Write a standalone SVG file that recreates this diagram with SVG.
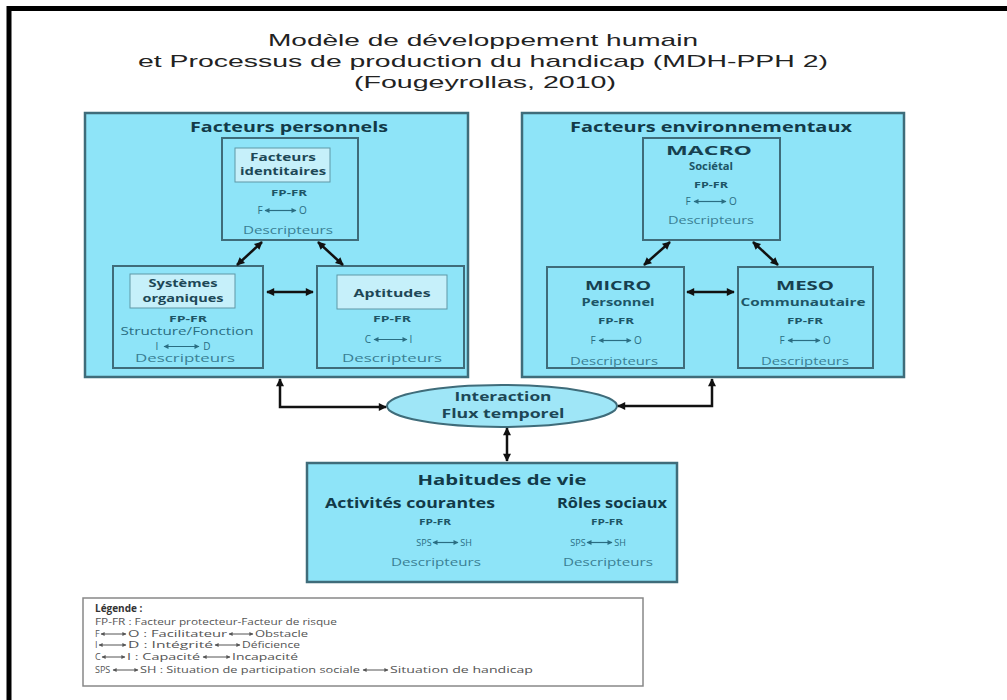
<svg xmlns="http://www.w3.org/2000/svg" width="1007" height="700" viewBox="0 0 1007 700">
<defs>
<style>
.title{font-family:"Liberation Sans",Arial,sans-serif;font-size:17px;fill:#222;text-anchor:middle}
.box{fill:#8ee4f8;stroke:#3f6c7a;stroke-width:2.5}
.ibox{fill:#8ee4f8;stroke:#3f6c7a;stroke-width:2}
.lbl{fill:#c6f0fa;stroke:#5f97a6;stroke-width:1}
.t{font-family:"Open Sans","Noto Sans",sans-serif;text-anchor:middle}
.h1{font-size:15px;font-weight:bold;fill:#123a48}
.h2{font-size:14px;font-weight:bold;fill:#123a48}
.h3{font-size:13px;font-weight:bold;fill:#17404f}
.lb{font-size:11px;font-weight:bold;fill:#1d4756}
.sub{font-size:10.5px;font-weight:bold;fill:#1d5566}
.fp{font-size:9.5px;font-weight:bold;fill:#1d5566}
.sm{font-size:10px;fill:#2a6d82}
.ds{font-size:10.5px;fill:#3a7f94}
.lg{font-family:"Open Sans","Noto Sans",sans-serif;font-size:9px;fill:#555}
.con{fill:none;stroke:#111;stroke-width:2.5;marker-start:url(#ah);marker-end:url(#ah)}
.ta{stroke:#2a6d82;stroke-width:1.2;marker-start:url(#sa);marker-end:url(#sa)}
.la{stroke:#555;stroke-width:1;marker-start:url(#sl);marker-end:url(#sl)}
</style>
<marker id="ah" viewBox="0 0 10 10" refX="9" refY="5" markerWidth="9" markerHeight="8" markerUnits="userSpaceOnUse" orient="auto-start-reverse"><path d="M0,0 L10,5 L0,10 z" fill="#111"/></marker>
<marker id="sa" viewBox="0 0 10 10" refX="9" refY="5" markerWidth="6" markerHeight="5" markerUnits="userSpaceOnUse" orient="auto-start-reverse"><path d="M0,0 L10,5 L0,10 z" fill="#2a6d82"/></marker>
<marker id="sl" viewBox="0 0 10 10" refX="9" refY="5" markerWidth="5" markerHeight="4" markerUnits="userSpaceOnUse" orient="auto-start-reverse"><path d="M0,0 L10,5 L0,10 z" fill="#555"/></marker>
</defs>
<rect width="1007" height="700" fill="#fff"/>
<path d="M9,700 V8.5 H1007" fill="none" stroke="#000" stroke-width="5"/>

<g id="title">
<text class="title" x="483" y="46" textLength="430" lengthAdjust="spacingAndGlyphs">Modèle de développement humain</text>
<text class="title" x="483" y="67" textLength="690" lengthAdjust="spacingAndGlyphs">et Processus de production du handicap (MDH-PPH 2)</text>
<text class="title" x="485" y="88" textLength="262" lengthAdjust="spacingAndGlyphs">(Fougeyrollas, 2010)</text>
</g>

<g id="facteurs-personnels">
<rect class="box" x="85" y="113" width="383" height="264"/>
<text class="t h1" x="289" y="132" textLength="198" lengthAdjust="spacingAndGlyphs">Facteurs personnels</text>
</g>

<g id="facteurs-identitaires">
<rect class="ibox" x="222" y="138" width="136" height="102"/>
<rect class="lbl" x="235" y="148" width="95" height="34"/>
<text class="t lb" x="283" y="161" textLength="66" lengthAdjust="spacingAndGlyphs">Facteurs</text>
<text class="t lb" x="283" y="175" textLength="86" lengthAdjust="spacingAndGlyphs">identitaires</text>
<text class="t fp" x="289" y="196" textLength="36" lengthAdjust="spacingAndGlyphs">FP-FR</text>
<text class="t sm" x="260" y="214">F</text>
<line class="ta" x1="265" y1="210.5" x2="296" y2="210.5"/>
<text class="t sm" x="303" y="214">O</text>
<text class="t ds" x="288" y="234" textLength="90" lengthAdjust="spacingAndGlyphs">Descripteurs</text>
</g>

<g id="systemes-organiques">
<rect class="ibox" x="113" y="266" width="150" height="102"/>
<rect class="lbl" x="130" y="274" width="105" height="34"/>
<text class="t lb" x="183" y="287" textLength="69" lengthAdjust="spacingAndGlyphs">Systèmes</text>
<text class="t lb" x="183" y="302" textLength="81" lengthAdjust="spacingAndGlyphs">organiques</text>
<text class="t fp" x="188" y="322" textLength="38" lengthAdjust="spacingAndGlyphs">FP-FR</text>
<text class="t sm" x="187" y="335" textLength="133" lengthAdjust="spacingAndGlyphs">Structure/Fonction</text>
<text class="t sm" x="157" y="350">I</text>
<line class="ta" x1="164" y1="346.5" x2="199" y2="346.5"/>
<text class="t sm" x="207" y="350">D</text>
<text class="t ds" x="185" y="362" textLength="100" lengthAdjust="spacingAndGlyphs">Descripteurs</text>
</g>

<g id="aptitudes">
<rect class="ibox" x="317" y="266" width="147" height="102"/>
<rect class="lbl" x="337" y="275" width="110" height="34"/>
<text class="t lb" x="392" y="297" textLength="77" lengthAdjust="spacingAndGlyphs">Aptitudes</text>
<text class="t fp" x="392" y="322" textLength="38" lengthAdjust="spacingAndGlyphs">FP-FR</text>
<text class="t sm" x="368" y="343">C</text>
<line class="ta" x1="374" y1="339.5" x2="407" y2="339.5"/>
<text class="t sm" x="411" y="343">I</text>
<text class="t ds" x="392" y="362" textLength="100" lengthAdjust="spacingAndGlyphs">Descripteurs</text>
</g>

<g id="facteurs-environnementaux">
<rect class="box" x="522" y="113" width="382" height="264"/>
<text class="t h1" x="711" y="132" textLength="282" lengthAdjust="spacingAndGlyphs">Facteurs environnementaux</text>
</g>

<g id="macro">
<rect class="ibox" x="643" y="138" width="137" height="102"/>
<text class="t h3" x="709" y="155" textLength="86" lengthAdjust="spacingAndGlyphs">MACRO</text>
<text class="t sub" x="711" y="170" textLength="44" lengthAdjust="spacingAndGlyphs">Sociétal</text>
<text class="t fp" x="711" y="188" textLength="34" lengthAdjust="spacingAndGlyphs">FP-FR</text>
<text class="t sm" x="688" y="205">F</text>
<line class="ta" x1="694" y1="201.5" x2="726" y2="201.5"/>
<text class="t sm" x="733" y="205">O</text>
<text class="t ds" x="711" y="224" textLength="86" lengthAdjust="spacingAndGlyphs">Descripteurs</text>
</g>

<g id="micro">
<rect class="ibox" x="547" y="267" width="137" height="101"/>
<text class="t h3" x="618" y="290" textLength="66" lengthAdjust="spacingAndGlyphs">MICRO</text>
<text class="t sub" x="618" y="306" textLength="73" lengthAdjust="spacingAndGlyphs">Personnel</text>
<text class="t fp" x="616" y="324" textLength="36" lengthAdjust="spacingAndGlyphs">FP-FR</text>
<text class="t sm" x="593" y="344">F</text>
<line class="ta" x1="599" y1="340.5" x2="631" y2="340.5"/>
<text class="t sm" x="638" y="344">O</text>
<text class="t ds" x="614" y="365" textLength="88" lengthAdjust="spacingAndGlyphs">Descripteurs</text>
</g>

<g id="meso">
<rect class="ibox" x="738" y="267" width="135" height="101"/>
<text class="t h3" x="805" y="290" textLength="58" lengthAdjust="spacingAndGlyphs">MESO</text>
<text class="t sub" x="803" y="306" textLength="125" lengthAdjust="spacingAndGlyphs">Communautaire</text>
<text class="t fp" x="805" y="324" textLength="36" lengthAdjust="spacingAndGlyphs">FP-FR</text>
<text class="t sm" x="782" y="344">F</text>
<line class="ta" x1="788" y1="340.5" x2="820" y2="340.5"/>
<text class="t sm" x="827" y="344">O</text>
<text class="t ds" x="805" y="365" textLength="88" lengthAdjust="spacingAndGlyphs">Descripteurs</text>
</g>

<g id="interaction">
<ellipse cx="502" cy="406" rx="115" ry="21" fill="#9fe6f7" stroke="#3f6c7a" stroke-width="2"/>
<text class="t lb" x="503" y="401" style="font-size:12.5px" textLength="97" lengthAdjust="spacingAndGlyphs">Interaction</text>
<text class="t lb" x="503" y="418" style="font-size:12.5px" textLength="123" lengthAdjust="spacingAndGlyphs">Flux temporel</text>
</g>

<g id="habitudes-de-vie">
<rect class="box" x="307" y="463" width="370" height="119"/>
<text class="t h1" x="502" y="485" textLength="169" lengthAdjust="spacingAndGlyphs">Habitudes de vie</text>
<text class="t h2" x="410" y="508" textLength="170" lengthAdjust="spacingAndGlyphs">Activités courantes</text>
<text class="t h2" x="612" y="508" textLength="110" lengthAdjust="spacingAndGlyphs">Rôles sociaux</text>
<text class="t fp" x="435" y="525" textLength="32" lengthAdjust="spacingAndGlyphs">FP-FR</text>
<text class="t fp" x="607" y="525" textLength="32" lengthAdjust="spacingAndGlyphs">FP-FR</text>
<text class="t sm" x="424" y="546" style="font-size:9px">SPS</text>
<line class="ta" x1="433" y1="542.5" x2="458" y2="542.5"/>
<text class="t sm" x="466" y="546" style="font-size:9px">SH</text>
<text class="t sm" x="578" y="546" style="font-size:9px">SPS</text>
<line class="ta" x1="587" y1="542.5" x2="612" y2="542.5"/>
<text class="t sm" x="620" y="546" style="font-size:9px">SH</text>
<text class="t ds" x="436" y="566" textLength="90" lengthAdjust="spacingAndGlyphs">Descripteurs</text>
<text class="t ds" x="608" y="566" textLength="90" lengthAdjust="spacingAndGlyphs">Descripteurs</text>
</g>

<g id="connectors">
<line class="con" x1="262" y1="242" x2="237" y2="265"/>
<line class="con" x1="318" y1="242" x2="343" y2="265"/>
<line class="con" x1="267" y1="292" x2="313" y2="292"/>
<line class="con" x1="670" y1="242" x2="644" y2="265"/>
<line class="con" x1="753" y1="242" x2="778" y2="265"/>
<line class="con" x1="687" y1="292" x2="734" y2="292"/>
<path class="con" d="M280,379 V407 H386"/>
<path class="con" d="M712,379 V406 H618"/>
<line class="con" x1="507" y1="428" x2="507" y2="461"/>
</g>

<g id="legende">
<rect x="83" y="598" width="560" height="88" fill="#fff" stroke="#888" stroke-width="1.5"/>
<text class="lg" x="95" y="612" style="font-weight:bold;font-size:10px;fill:#333">Légende :</text>
<text class="lg" x="95" y="625" textLength="242" lengthAdjust="spacingAndGlyphs">FP-FR : Facteur protecteur-Facteur de risque</text>
<text class="lg" x="95" y="637">F</text>
<line class="la" x1="101" y1="634" x2="126" y2="634"/>
<text class="lg" x="128" y="637" textLength="99" lengthAdjust="spacingAndGlyphs">O : Facilitateur</text>
<line class="la" x1="229" y1="634" x2="253" y2="634"/>
<text class="lg" x="255" y="637" textLength="53" lengthAdjust="spacingAndGlyphs">Obstacle</text>
<text class="lg" x="95" y="648">I</text>
<line class="la" x1="99" y1="645" x2="126" y2="645"/>
<text class="lg" x="128" y="648" textLength="85" lengthAdjust="spacingAndGlyphs">D : Intégrité</text>
<line class="la" x1="215" y1="645" x2="240" y2="645"/>
<text class="lg" x="242" y="648" textLength="58" lengthAdjust="spacingAndGlyphs">Déficience</text>
<text class="lg" x="95" y="660">C</text>
<line class="la" x1="102" y1="657" x2="125" y2="657"/>
<text class="lg" x="127" y="660" textLength="73" lengthAdjust="spacingAndGlyphs">I : Capacité</text>
<line class="la" x1="203" y1="657" x2="230" y2="657"/>
<text class="lg" x="232" y="660" textLength="66" lengthAdjust="spacingAndGlyphs">Incapacité</text>
<text class="lg" x="95" y="673">SPS</text>
<line class="la" x1="113" y1="670" x2="138" y2="670"/>
<text class="lg" x="140" y="673" textLength="220" lengthAdjust="spacingAndGlyphs">SH : Situation de participation sociale</text>
<line class="la" x1="363" y1="670" x2="388" y2="670"/>
<text class="lg" x="390" y="673" textLength="143" lengthAdjust="spacingAndGlyphs">Situation de handicap</text>
</g>
</svg>
